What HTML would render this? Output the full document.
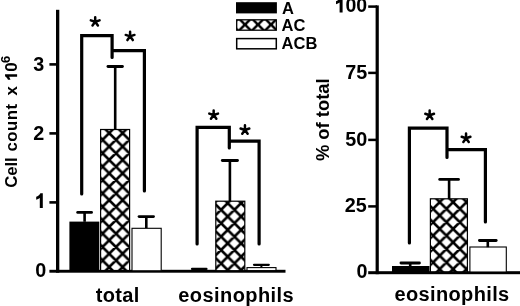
<!DOCTYPE html>
<html><head><meta charset="utf-8"><style>
html,body{margin:0;padding:0;background:#fff;}
body{width:520px;height:306px;overflow:hidden;}
svg{display:block;filter:grayscale(1) blur(0.3px);}
text{font-family:"Liberation Sans",sans-serif;font-weight:bold;fill:#000;}
</style></head><body>
<svg width="520" height="306" viewBox="0 0 520 306">
<defs><pattern id="h1" patternUnits="userSpaceOnUse" x="109.2" y="133.1" width="13.4" height="13.4"><rect width="13.4" height="13.4" fill="#fff"/><path d="M-3,-3L16.4,16.4M16.4,-3L-3,16.4M-3,10.4L3,16.4M10.4,-3L16.4,3M-3,3L3,-3M10.4,16.4L16.4,10.4" stroke="#000" stroke-width="2.6" fill="none"/></pattern><pattern id="h2" patternUnits="userSpaceOnUse" x="227.7" y="203.1" width="13.4" height="13.4"><rect width="13.4" height="13.4" fill="#fff"/><path d="M-3,-3L16.4,16.4M16.4,-3L-3,16.4M-3,10.4L3,16.4M10.4,-3L16.4,3M-3,3L3,-3M10.4,16.4L16.4,10.4" stroke="#000" stroke-width="2.6" fill="none"/></pattern><pattern id="h3" patternUnits="userSpaceOnUse" x="439.7" y="202.1" width="13.4" height="13.4"><rect width="13.4" height="13.4" fill="#fff"/><path d="M-3,-3L16.4,16.4M16.4,-3L-3,16.4M-3,10.4L3,16.4M10.4,-3L16.4,3M-3,3L3,-3M10.4,16.4L16.4,10.4" stroke="#000" stroke-width="2.6" fill="none"/></pattern><pattern id="hl" patternUnits="userSpaceOnUse" x="245.0" y="24.6" width="13.0" height="13.0"><rect width="13.0" height="13.0" fill="#fff"/><path d="M-3,-3L16.0,16.0M16.0,-3L-3,16.0M-3,10.0L3,16.0M10.0,-3L16.0,3M-3,3L3,-3M10.0,16.0L16.0,10.0" stroke="#000" stroke-width="2.5" fill="none"/></pattern></defs>
<rect x="56.00" y="9.80" width="3.30" height="262.90" fill="#000"/>
<rect x="49.40" y="63.10" width="7.60" height="2.60" fill="#000"/>
<rect x="49.40" y="132.10" width="7.60" height="2.60" fill="#000"/>
<rect x="49.40" y="201.10" width="7.60" height="2.60" fill="#000"/>
<rect x="49.40" y="269.80" width="236.10" height="2.90" fill="#000"/>
<text x="33.20" y="70.90" font-size="19.8">3</text>
<text x="33.28" y="139.80" font-size="19.8">2</text>
<path transform="translate(42.8,207.9) scale(1.0)" d="M0,0L-3.0,0L-3.0,-9.8C-4.0,-9.0 -5.3,-8.4 -6.6,-8.1L-6.6,-11.1C-4.9,-11.8 -3.3,-13.1 -2.4,-14.7L0,-14.7Z" fill="#000"/>
<text x="35.30" y="276.90" font-size="19.8">0</text>
<rect x="69.40" y="221.60" width="29.90" height="49.40" fill="#000"/>
<rect x="100.6" y="129.5" width="29.0" height="141" fill="url(#h1)" stroke="#000" stroke-width="1.2"/>
<rect x="132.0" y="228.3" width="29.2" height="42.5" fill="#fff" stroke="#000" stroke-width="1.1"/>
<rect x="83.30" y="212.40" width="2.60" height="9.40" fill="#000"/><line x1="77.65" y1="212.40" x2="91.55" y2="212.40" stroke="#000" stroke-width="2.8" stroke-linecap="round"/>
<rect x="113.90" y="66.50" width="2.60" height="62.70" fill="#000"/><line x1="107.95" y1="66.50" x2="122.45" y2="66.50" stroke="#000" stroke-width="2.8" stroke-linecap="round"/>
<rect x="145.00" y="216.60" width="2.60" height="11.40" fill="#000"/><line x1="139.05" y1="216.60" x2="153.55" y2="216.60" stroke="#000" stroke-width="2.8" stroke-linecap="round"/>
<path d="M81.7,194.0L81.7,35.6L112.1,35.6L112.1,57.5M112.1,50.7L144.4,50.7L144.4,191.0" stroke="#000" stroke-width="3.2" fill="none" stroke-linejoin="miter" stroke-linecap="round"/>
<path d="M95.20,21.75L95.20,17.15M95.20,21.75L99.57,20.33M95.20,21.75L97.90,25.47M95.20,21.75L92.50,25.47M95.20,21.75L90.83,20.33" stroke="#000" stroke-width="2.5" stroke-linecap="round" fill="none"/>
<path d="M130.10,36.35L130.10,31.75M130.10,36.35L134.47,34.93M130.10,36.35L132.80,40.07M130.10,36.35L127.40,40.07M130.10,36.35L125.73,34.93" stroke="#000" stroke-width="2.5" stroke-linecap="round" fill="none"/>
<line x1="192" y1="268.9" x2="206.5" y2="268.9" stroke="#000" stroke-width="2.2" stroke-linecap="round"/>
<rect x="215.8" y="201.2" width="29.0" height="69.5" fill="url(#h2)" stroke="#000" stroke-width="1.2"/>
<rect x="228.60" y="160.50" width="2.60" height="40.90" fill="#000"/><line x1="222.30" y1="160.50" x2="237.50" y2="160.50" stroke="#000" stroke-width="2.8" stroke-linecap="round"/>
<rect x="247.0" y="267.6" width="29.0" height="3" fill="#fff" stroke="#000" stroke-width="1.1"/>
<line x1="254" y1="264.8" x2="268.8" y2="264.8" stroke="#000" stroke-width="2.2" stroke-linecap="round"/>
<rect x="260.40" y="264.80" width="2.00" height="2.80" fill="#000"/>
<path d="M197.1,244.0L197.1,127.3L229.3,127.3L229.3,148.0M229.3,141.1L259.1,141.1L259.1,244.0" stroke="#000" stroke-width="3.2" fill="none" stroke-linejoin="miter" stroke-linecap="round"/>
<path d="M213.65,115.05L213.65,110.45M213.65,115.05L218.02,113.63M213.65,115.05L216.35,118.77M213.65,115.05L210.95,118.77M213.65,115.05L209.28,113.63" stroke="#000" stroke-width="2.5" stroke-linecap="round" fill="none"/>
<path d="M244.95,129.95L244.95,125.35M244.95,129.95L249.32,128.53M244.95,129.95L247.65,133.67M244.95,129.95L242.25,133.67M244.95,129.95L240.58,128.53" stroke="#000" stroke-width="2.5" stroke-linecap="round" fill="none"/>
<text x="95.66" y="302.20" font-size="20" letter-spacing="0.336">total</text>
<text x="178.22" y="301.80" font-size="20" letter-spacing="0.438">eosinophils</text>
<g transform="translate(17.1,200.0) rotate(-90)">
<text x="12.31" y="0.00" font-size="16.8" letter-spacing="-0.111">Cell</text>
<text x="48.54" y="0.00" font-size="16.8" letter-spacing="0.484">count</text>
<text x="104.59" y="0.00" font-size="16.8">x</text>
<path transform="translate(125.7,0) scale(0.82)" d="M0,0L-3.0,0L-3.0,-9.8C-4.0,-9.0 -5.3,-8.4 -6.6,-8.1L-6.6,-11.1C-4.9,-11.8 -3.3,-13.1 -2.4,-14.7L0,-14.7Z" fill="#000"/>
<text x="128.34" y="0.00" font-size="16.8">0</text>
<text x="136.92" y="-7.30" font-size="13.0">6</text>
</g>
<rect x="236.00" y="2.20" width="40.90" height="11.20" fill="#000"/>
<rect x="236.7" y="19.8" width="39.6" height="10.4" fill="url(#hl)" stroke="#000" stroke-width="1.3"/>
<rect x="236.7" y="38.6" width="39.6" height="10.2" fill="#fff" stroke="#000" stroke-width="1.5"/>
<g transform="translate(282.2,0) scale(0.95,1) translate(-282.2,0)">
<text x="281.97" y="13.90" font-size="17.4">A</text>
<text x="281.57" y="30.80" font-size="17.4">AC</text>
<text x="281.57" y="49.20" font-size="17.4">ACB</text>
</g>
<rect x="375.60" y="5.40" width="3.20" height="268.80" fill="#000"/>
<rect x="368.20" y="5.35" width="8.80" height="2.50" fill="#000"/>
<rect x="368.20" y="71.65" width="8.80" height="2.50" fill="#000"/>
<rect x="368.20" y="138.65" width="8.80" height="2.50" fill="#000"/>
<rect x="368.20" y="205.15" width="8.80" height="2.50" fill="#000"/>
<rect x="368.20" y="271.20" width="151.80" height="3.00" fill="#000"/>
<path transform="translate(342.6,12.4) scale(1.0)" d="M0,0L-3.0,0L-3.0,-9.8C-4.0,-9.0 -5.3,-8.4 -6.6,-8.1L-6.6,-11.1C-4.9,-11.8 -3.3,-13.1 -2.4,-14.7L0,-14.7Z" fill="#000"/>
<text x="345.51" y="12.40" font-size="19.5">00</text>
<text x="345.33" y="79.30" font-size="19.8">75</text>
<text x="345.29" y="145.90" font-size="19.8">50</text>
<text x="344.83" y="212.00" font-size="19.8">25</text>
<text x="356.60" y="278.40" font-size="19.8">0</text>
<rect x="392.00" y="266.00" width="37.50" height="6.00" fill="#000"/>
<rect x="408.90" y="263.00" width="2.60" height="3.20" fill="#000"/><line x1="400.95" y1="263.00" x2="419.45" y2="263.00" stroke="#000" stroke-width="2.8" stroke-linecap="round"/>
<rect x="430.4" y="198.8" width="37.0" height="73" fill="url(#h3)" stroke="#000" stroke-width="1.2"/>
<rect x="447.80" y="179.40" width="2.60" height="19.60" fill="#000"/><line x1="439.70" y1="179.40" x2="458.50" y2="179.40" stroke="#000" stroke-width="2.8" stroke-linecap="round"/>
<rect x="469.9" y="247.0" width="36.4" height="25" fill="#fff" stroke="#000" stroke-width="1.1"/>
<rect x="486.50" y="240.50" width="2.60" height="6.70" fill="#000"/><line x1="479.40" y1="240.50" x2="496.20" y2="240.50" stroke="#000" stroke-width="2.8" stroke-linecap="round"/>
<path d="M409.4,243.0L409.4,128.2L447.0,128.2L447.0,157.5M447.0,149.6L485.4,149.6L485.4,222.0" stroke="#000" stroke-width="3.2" fill="none" stroke-linejoin="miter" stroke-linecap="round"/>
<path d="M429.65,115.20L429.65,110.60M429.65,115.20L434.02,113.78M429.65,115.20L432.35,118.92M429.65,115.20L426.95,118.92M429.65,115.20L425.28,113.78" stroke="#000" stroke-width="2.5" stroke-linecap="round" fill="none"/>
<path d="M466.05,138.20L466.05,133.60M466.05,138.20L470.42,136.78M466.05,138.20L468.75,141.92M466.05,138.20L463.35,141.92M466.05,138.20L461.68,136.78" stroke="#000" stroke-width="2.5" stroke-linecap="round" fill="none"/>
<text x="394.52" y="300.80" font-size="20" letter-spacing="0.358">eosinophils</text>
<g transform="translate(329.1,200) rotate(-90)"><text x="38.94" y="0.00" font-size="18.4" letter-spacing="-0.014">% of total</text></g>
</svg>
</body></html>
